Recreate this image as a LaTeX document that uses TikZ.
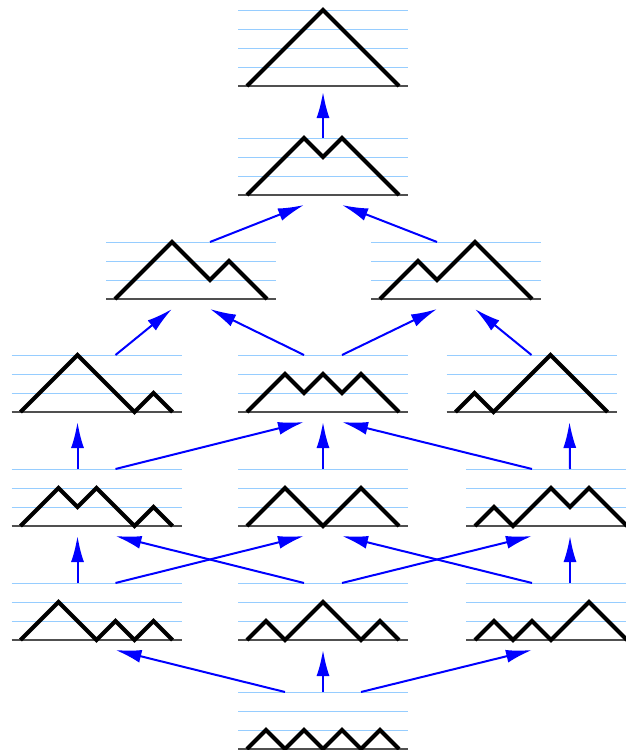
\documentclass[tikz,border=0pt]{standalone}
\usetikzlibrary{arrows.meta,calc}
\definecolor{gridblue}{RGB}{150,205,255}
\definecolor{axisgray}{RGB}{80,80,80}
\tikzset{
  hline/.style={draw=gridblue,line width=1pt},
  axisline/.style={draw=axisgray,line width=1.2pt},
  dyckline/.style={draw=black,line width=4pt},
  arr/.style={draw=blue,line width=2pt,-{Latex[length=26pt,width=13pt]}}
}
% #1 name, #2 left end of the path, #3 baseline, #4 number of grid lines, #5 steps (1 = up, -1 = down)
\newcommand\dyckbox[5]{%
  \coordinate (#1) at ({#2+76},#3);
  \foreach \k in {1,...,#4} \draw[hline] ({#2-9},{#3-19*\k}) -- ++(170,0);
  \draw[axisline] ({#2-9},#3) -- ++(170,0);
  \draw[dyckline] (#2,#3) \foreach \s in {#5} {-- ++(19,{-19*\s})};
}
% covering arrow from the top of box #1 (offset #2) to just under box #3 (offset #4, drop #5)
\newcommand\cover[5]{%
  \draw[arr] ($(#1)+(#2,-57)$) -- ($(#3)+(#4,#5)$);
}
\begin{document}
\begin{tikzpicture}[x=1pt,y=-1pt]
\useasboundingbox (0,0) rectangle (625,750);

\dyckbox{T}{247}{86}{4}{1,1,1,1,-1,-1,-1,-1}
\dyckbox{S}{247}{195}{3}{1,1,1,-1,1,-1,-1,-1}
\dyckbox{L3}{115}{299}{3}{1,1,1,-1,-1,1,-1,-1}
\dyckbox{R3}{380}{299}{3}{1,1,-1,1,1,-1,-1,-1}
\dyckbox{L4}{20.5}{412}{3}{1,1,1,-1,-1,-1,1,-1}
\dyckbox{C4}{247}{412}{3}{1,1,-1,1,-1,1,-1,-1}
\dyckbox{R4}{455.5}{412}{3}{1,-1,1,1,1,-1,-1,-1}
\dyckbox{L5}{20.5}{526}{3}{1,1,-1,1,-1,-1,1,-1}
\dyckbox{C5}{247}{526}{3}{1,1,-1,-1,1,1,-1,-1}
\dyckbox{R5}{475}{526}{3}{1,-1,1,1,-1,1,-1,-1}
\dyckbox{L6}{20.5}{640}{3}{1,1,-1,-1,1,-1,1,-1}
\dyckbox{C6}{247}{640}{3}{1,-1,1,1,-1,-1,1,-1}
\dyckbox{R6}{475}{640}{3}{1,-1,1,-1,1,1,-1,-1}
\dyckbox{B}{247}{749}{3}{1,-1,1,-1,1,-1,1,-1}

\cover{S}{0}{T}{0}{6}
\cover{L3}{19}{S}{-19}{10}
\cover{R3}{-19}{S}{19}{10}
\cover{L4}{19}{L3}{-19}{10}
\cover{C4}{-19}{L3}{19}{10}
\cover{C4}{19}{R3}{-19}{10}
\cover{R4}{0}{R3}{19}{10}
\cover{L5}{-19}{L4}{-19}{10}
\cover{L5}{19}{C4}{-19}{10}
\cover{C5}{0}{C4}{0}{10}
\cover{R5}{-19}{C4}{19}{10}
\cover{R5}{19}{R4}{38}{10}
\cover{L6}{-19}{L5}{-19}{10}
\cover{L6}{19}{C5}{-19}{10}
\cover{C6}{-19}{L5}{19}{10}
\cover{C6}{19}{R5}{-19}{10}
\cover{R6}{-19}{C5}{19}{10}
\cover{R6}{19}{R5}{19}{10}
\cover{B}{-38}{L6}{19}{10}
\cover{B}{0}{C6}{0}{10}
\cover{B}{38}{R6}{-19}{10}
\end{tikzpicture}
\end{document}
